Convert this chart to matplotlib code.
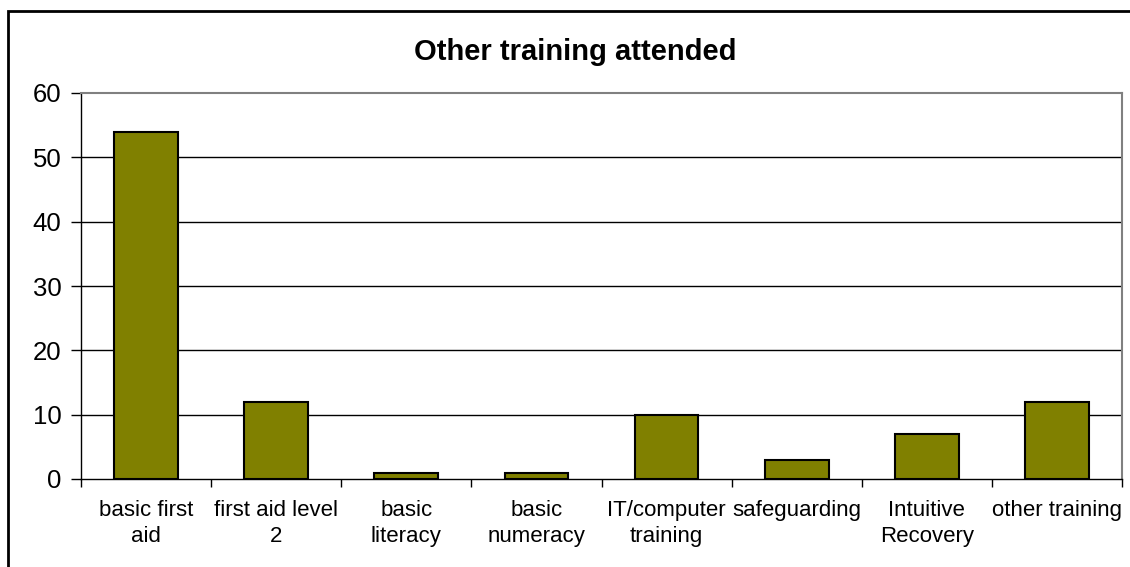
import matplotlib
matplotlib.use("Agg")
import matplotlib.pyplot as plt
import numpy as np
from matplotlib.patches import Rectangle

categories = ["basic first\naid", "first aid level\n2", "basic\nliteracy", "basic\nnumeracy",
              "IT/computer\ntraining", "safeguarding", "Intuitive\nRecovery", "other training"]
values = [54, 12, 1, 1, 10, 3, 7, 12]
y_ticks = [0, 10, 20, 30, 40, 50, 60]

plt.rcParams['font.family'] = ['Liberation Sans', 'DejaVu Sans']

fig = plt.figure(figsize=(11.30, 5.67), dpi=100)
ax = fig.add_axes([81 / 1130, 1 - 479 / 567, (1122 - 81) / 1130, (479 - 93) / 567])

# outer chart frame (runs off the right and bottom edges)
fig.patches.append(Rectangle((8 / 1130, -0.05), 1.1, 1 - 11 / 567 + 0.05,
                             transform=fig.transFigure, fill=False,
                             edgecolor='black', linewidth=2))

x = np.arange(len(values))
ax.bar(x, values, width=0.49, color='#808000', edgecolor='black', linewidth=1.5, zorder=3)

ax.set_xlim(-0.5, len(values) - 0.5)
ax.set_ylim(0, 60)
ax.set_yticks(y_ticks)
ax.set_yticklabels([str(v) for v in y_ticks], fontsize=18.5)
ax.set_xticks(x)
ax.set_xticklabels(categories, fontsize=16, linespacing=1.35)
ax.tick_params(axis='x', which='major', length=0, pad=15)
ax.set_xticks(np.arange(-0.5, len(values)), minor=True)
ax.tick_params(axis='x', which='minor', length=6, width=1, direction='out')
ax.tick_params(axis='y', length=7, width=1, direction='out', pad=7)

for v in y_ticks[1:-1]:
    ax.axhline(v, color='black', linewidth=1, zorder=1)

ax.spines['top'].set_color('#808080')
ax.spines['right'].set_color('#808080')
ax.spines['top'].set_linewidth(1.5)
ax.spines['right'].set_linewidth(1.5)
ax.spines['left'].set_linewidth(1)
ax.spines['bottom'].set_linewidth(1)

fig.text(575 / 1130, 1 - 52 / 567, "Other training attended", ha='center', va='center',
         fontsize=21, fontweight='bold')

fig.savefig("out.png", dpi=100)
